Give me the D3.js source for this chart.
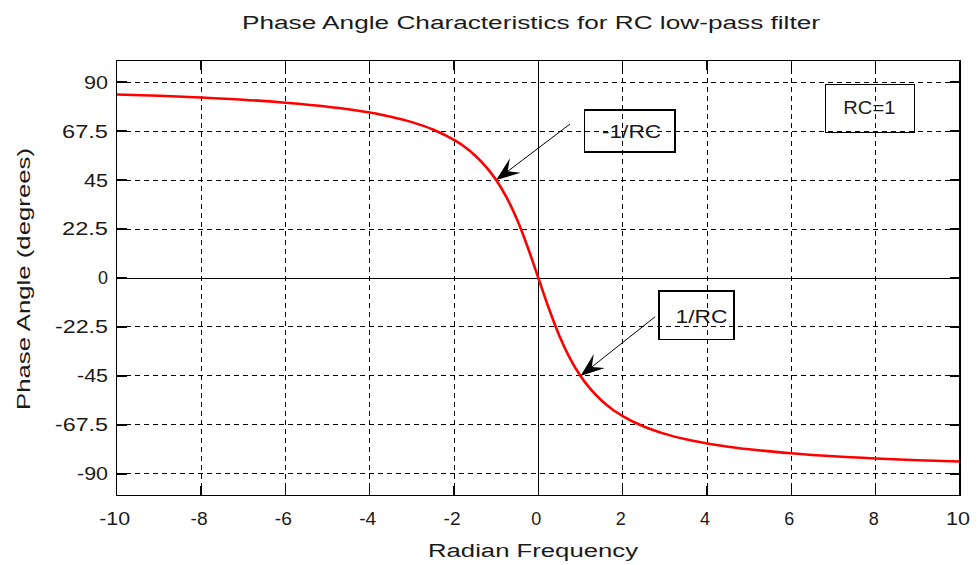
<!DOCTYPE html>
<html><head><meta charset="utf-8">
<script src="https://cdn.jsdelivr.net/npm/d3@7"></script>
<style>body{margin:0;background:#fff}svg{display:block}</style>
</head><body>
<svg id="c" width="977" height="565"></svg>
<script>
// ---- data ----
const freq  = [-10,-9,-8,-7,-6,-5,-4.5,-4,-3.5,-3,-2.5,-2,-1.75,-1.5,-1.25,-1,-0.75,-0.5,-0.25,0,
                0.25,0.5,0.75,1,1.25,1.5,1.75,2,2.5,3,3.5,4,4.5,5,6,7,8,9,10];
const phase = [84.3,83.7,82.9,81.9,80.5,78.7,77.5,76.0,74.1,71.6,68.2,63.4,60.3,56.3,51.3,45.0,36.9,26.6,14.0,0,
               -14.0,-26.6,-36.9,-45.0,-51.3,-56.3,-60.3,-63.4,-68.2,-71.6,-74.1,-76.0,-77.5,-78.7,-80.5,-81.9,-82.9,-83.7,-84.3];
const xTicks = [-10,-8,-6,-4,-2,0,2,4,6,8,10];
const yTicks = [-90,-67.5,-45,-22.5,0,22.5,45,67.5,90];
const xTickLabels = ["-10","-8","-6","-4","-2","0","2","4","6","8","10"];
const yTickLabels = ["-90","-67.5","-45","-22.5","0","22.5","45","67.5","90"];
const titleText = "Phase Angle Characteristics for RC low-pass filter";
const xLabelText = "Radian Frequency";
const yLabelText = "Phase Angle (degrees)";
// annotations (data units)
const notes = [
  {text:"-1/RC", bx0:1.1,  bx1:3.24, by0:77.2, by1:57.9, tx:2.21, ty:67.5, ax:0.75, ay:70.7, px:-1, py:45},
  {text:"1/RC",  bx0:2.86, bx1:4.64, by0:-6.0, by1:-28.2, tx:3.87, ty:-17.5, ax:2.77, ay:-17.8, px:1, py:-45},
  {text:"RC=1",  bx0:6.81, bx1:8.92, by0:89.0, by1:66.9, tx:7.85, ty:78.1}
];

// ---- layout ----
const L = 116.7, R = 960, T = 60.3, B = 495.7;
const FONT = "'Liberation Sans', Arial, Helvetica, sans-serif";
const INK = "#1a1a1a";
const ADJ = "spacingAndGlyphs";
const svg = d3.select("#c");
const x = d3.scaleLinear().domain([-10,10]).range([L,R]);
const y = d3.scaleLinear().domain([-100,100]).range([B,T]);

function tw(s){ let w=0; for(const ch of s){ w += ch==='.'?8 : ch==='-'?7 : 14; } return w; }

// grid
const g = svg.append("g");
g.selectAll(".vg").data(xTicks.filter(d=>d!==-10&&d!==10&&d!==0)).enter().append("line")
  .attr("x1",d=>x(d)).attr("x2",d=>x(d)).attr("y1",T).attr("y2",B)
  .attr("stroke","#000").attr("stroke-width",1).attr("stroke-dasharray","5,4").attr("shape-rendering","crispEdges");
g.selectAll(".hg").data(yTicks.filter(d=>d!==0)).enter().append("line")
  .attr("x1",L).attr("x2",R).attr("y1",d=>y(d)).attr("y2",d=>y(d))
  .attr("stroke","#000").attr("stroke-width",1).attr("stroke-dasharray","5,4").attr("shape-rendering","crispEdges");
g.append("line").attr("x1",L).attr("x2",R).attr("y1",y(0)).attr("y2",y(0)).attr("stroke","#000").attr("shape-rendering","crispEdges");
g.append("line").attr("x1",x(0)).attr("x2",x(0)).attr("y1",T).attr("y2",B).attr("stroke","#000").attr("shape-rendering","crispEdges");

// curve
const pts = freq.map((f,i)=>[f,phase[i]]);
svg.append("path").datum(pts)
  .attr("d", d3.line().x(d=>x(d[0])).y(d=>y(d[1])).curve(d3.curveMonotoneX))
  .attr("fill","none").attr("stroke","#ff0000").attr("stroke-width",2.6);

// annotations
const ng = svg.append("g");
notes.forEach(n=>{
  ng.append("rect").attr("x",x(n.bx0)).attr("y",y(n.by0))
    .attr("width",x(n.bx1)-x(n.bx0)).attr("height",y(n.by1)-y(n.by0))
    .attr("fill","none").attr("stroke","#000").attr("stroke-width",1.2).attr("shape-rendering","crispEdges");
  ng.append("text").attr("x",x(n.tx)).attr("y",y(n.ty)).attr("dy","0.36em")
    .attr("text-anchor","middle").attr("font-family",FONT).attr("font-size",18).attr("fill",INK)
    .attr("textLength", tw(n.text)-4).attr("lengthAdjust",ADJ).text(n.text);
  if(n.ax!==undefined){
    const x0=x(n.ax), y0=y(n.ay), x1=x(n.px), y1=y(n.py);
    const ang = Math.atan2(y1-y0, x1-x0)*180/Math.PI;
    const len=24, w=9;
    const ux=Math.cos(ang*Math.PI/180), uy=Math.sin(ang*Math.PI/180);
    ng.append("line").attr("x1",x0).attr("y1",y0).attr("x2",x1-ux*len*0.6).attr("y2",y1-uy*len*0.6)
      .attr("stroke","#000").attr("stroke-width",1);
    ng.append("path").attr("d",`M0,0L${-len},${-w}L${-len*0.6},0L${-len},${w}Z`)
      .attr("transform",`translate(${x1},${y1}) rotate(${ang})`).attr("fill","#000");
  }
});

// frame and ticks
const TL = 10;
svg.append("rect").attr("x",L).attr("y",T).attr("width",R-L).attr("height",B-T)
  .attr("fill","none").attr("stroke","#000").attr("stroke-width",1.3).attr("shape-rendering","crispEdges");
const tg = svg.append("g").attr("stroke","#000").attr("stroke-width",1.2).attr("shape-rendering","crispEdges");
xTicks.forEach(t=>{
  tg.append("line").attr("x1",x(t)).attr("x2",x(t)).attr("y1",B).attr("y2",B-TL);
  tg.append("line").attr("x1",x(t)).attr("x2",x(t)).attr("y1",T).attr("y2",T+TL);
});
yTicks.forEach(t=>{
  tg.append("line").attr("x1",L).attr("x2",L+TL).attr("y1",y(t)).attr("y2",y(t));
  tg.append("line").attr("x1",R).attr("x2",R-TL).attr("y1",y(t)).attr("y2",y(t));
});

// tick labels
svg.selectAll(".xl").data(xTicks).enter().append("text")
  .attr("x",d=>x(d)-2).attr("y",525).attr("text-anchor","middle")
  .attr("font-family",FONT).attr("font-size",18).attr("fill",INK)
  .attr("textLength",(d,i)=>tw(xTickLabels[i])-4).attr("lengthAdjust",ADJ)
  .text((d,i)=>xTickLabels[i]);
svg.selectAll(".yl").data(yTicks).enter().append("text")
  .attr("x",108).attr("y",d=>y(d)).attr("dy","0.36em").attr("text-anchor","end")
  .attr("font-family",FONT).attr("font-size",18).attr("fill",INK)
  .attr("textLength",(d,i)=>tw(yTickLabels[i])-4).attr("lengthAdjust",ADJ)
  .text((d,i)=>yTickLabels[i]);

// title and axis labels
svg.append("text").attr("x",531).attr("y",29).attr("text-anchor","middle")
  .attr("font-family",FONT).attr("font-size",18).attr("fill",INK)
  .attr("textLength",578).attr("lengthAdjust",ADJ).text(titleText);
svg.append("text").attr("x",533).attr("y",557).attr("text-anchor","middle")
  .attr("font-family",FONT).attr("font-size",18).attr("fill",INK)
  .attr("textLength",210).attr("lengthAdjust",ADJ).text(xLabelText);
svg.append("text").attr("transform","translate(30,279) rotate(-90)").attr("text-anchor","middle")
  .attr("font-family",FONT).attr("font-size",18).attr("fill",INK)
  .attr("textLength",262).attr("lengthAdjust",ADJ).text(yLabelText);
</script>
</body></html>
